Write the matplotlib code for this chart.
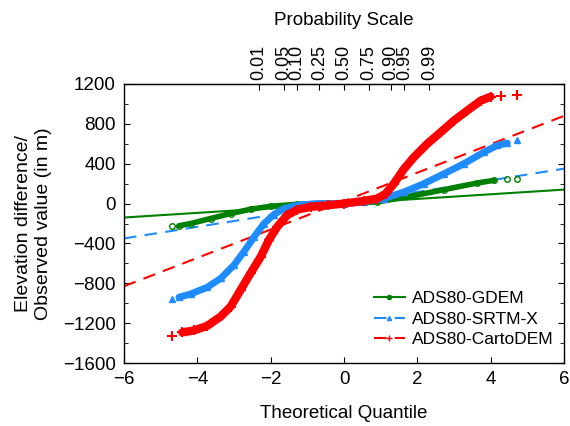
import matplotlib
matplotlib.use("Agg")
import matplotlib.pyplot as plt
from matplotlib.ticker import MultipleLocator

plt.rcParams['font.family'] = ['Liberation Sans', 'DejaVu Sans']

# CartoDEM quantiles
carto_x = [-4.68, -4.41, -4.09, -3.73, -3.36, -3.09, -2.82, -2.55, -2.27, -2.05, -1.82, -1.55,
           -1.27, -0.91, -0.45, 0.0, 0.55, 0.91, 1.14, 1.36, 1.64, 1.91, 2.27, 2.64, 3.0,
           3.36, 3.73, 4.0, 4.27, 4.73]
carto_y = [-1333, -1293, -1273, -1227, -1133, -1033, -867, -700, -533, -367, -233, -117,
           -60, -33, -17, 0, 27, 50, 100, 200, 350, 467, 600, 717, 833,
           933, 1033, 1073, 1083, 1093]

# SRTM-X quantiles
srtm_x = [-4.7, -4.5, -4.18, -3.73, -3.36, -3.0, -2.73, -2.45, -2.18, -1.91, -1.64, -1.27,
          -0.73, 0.0, 0.55, 1.09, 1.64, 2.18, 2.73, 3.27, 3.82, 4.18, 4.45, 4.71]
srtm_y = [-960, -940, -907, -840, -750, -617, -483, -333, -200, -110, -50, -17,
          0, 0, 17, 50, 117, 200, 300, 400, 517, 583, 607, 633]

# GDEM quantiles
gdem_x = [-4.7, -4.5, -4.18, -3.64, -3.09, -2.55, -2.0, -1.27, 0.0, 0.91, 1.82, 2.73,
          3.64, 4.09, 4.45, 4.71]
gdem_y = [-227, -223, -200, -150, -100, -57, -27, -7, 0, 17, 73, 140,
          207, 233, 243, 250]

# fitted reference lines (end points at x = -6 and 6)
ref_x = [-6, 6]
gdem_ref = [-140, 140]
srtm_ref = [-350, 350]
carto_ref = [-830, 880]

# probability scale on top
prob_labels = ['0.01', '0.05', '0.10', '0.25', '0.50', '0.75', '0.90', '0.95', '0.99']
prob_pos = [-2.326, -1.645, -1.282, -0.674, 0.0, 0.674, 1.282, 1.645, 2.326]

green = '#008000'
blue = '#1e8cff'
red = '#ff0000'

fig = plt.figure(figsize=(5.7, 4.26), dpi=100)
ax = fig.add_axes([124/570, 1 - 363/426, 440/570, 279/426])

# reference lines
ax.plot(ref_x, gdem_ref, color=green, lw=1.5, ls='-')
ax.plot(ref_x, srtm_ref, color=blue, lw=1.5, ls=(0, (6, 4)))
ax.plot(ref_x, carto_ref, color=red, lw=1.5, ls=(0, (6, 4)))

# data bands (dense quantile points), sparse tail points shown as markers only
ax.plot(gdem_x[1:-2], gdem_y[1:-2], color=green, lw=4, solid_joinstyle='round', solid_capstyle='round')
ax.plot(gdem_x, gdem_y, ls='none', marker='o', ms=4, mfc='none', mec=green, mew=1)
ax.plot(srtm_x[1:-1], srtm_y[1:-1], color=blue, lw=5, solid_joinstyle='round', solid_capstyle='round')
ax.plot(srtm_x, srtm_y, ls='none', marker='^', ms=5, color=blue)
ax.plot(carto_x[1:-2], carto_y[1:-2], color=red, lw=6, solid_joinstyle='round', solid_capstyle='round')
ax.plot(carto_x, carto_y, ls='none', marker='+', ms=7, mew=1.5, color=red)

# legend handles
h1, = ax.plot([], [], color=green, lw=1.5, marker='.', ms=6)
h2, = ax.plot([], [], color=blue, lw=1.5, ls=(0, (6, 4)), marker='^', ms=3)
h3, = ax.plot([], [], color=red, lw=1.5, ls=(0, (6, 4)), marker='+', ms=4)
ax.legend([h1, h2, h3], ['ADS80-GDEM', 'ADS80-SRTM-X', 'ADS80-CartoDEM'],
          loc='lower right', bbox_to_anchor=(1.0, 0.02), frameon=False, fontsize=12.5,
          handlelength=1.8, handletextpad=0.4, labelspacing=0.3, borderaxespad=0.2)

ax.set_xlim(-6, 6)
ax.set_ylim(-1600, 1200)
ax.set_xticks([-6, -4, -2, 0, 2, 4, 6])
ax.set_yticks(range(-1600, 1201, 400))
ax.yaxis.set_minor_locator(MultipleLocator(200))
ax.tick_params(axis='both', which='both', direction='in', labelsize=13.5)
ax.tick_params(axis='y', which='both', right=True)
ax.tick_params(axis='x', which='major', top=False, length=4, pad=6)
ax.tick_params(axis='y', which='major', length=4, pad=6)
ax.tick_params(axis='y', which='minor', length=3)
ax.set_xlabel('Theoretical Quantile', fontsize=13.5, labelpad=12)
ax.set_ylabel('Elevation difference/\nObserved value (in m)', fontsize=14, labelpad=8)

top = ax.secondary_xaxis('top')
top.set_ticks(prob_pos)
top.set_xticklabels(prob_labels, rotation=90)
top.tick_params(direction='in', length=4, labelsize=13, pad=3)
top.set_xlabel('Probability Scale', fontsize=13.5, labelpad=14)

for s in ax.spines.values():
    s.set_linewidth(1.0)

fig.savefig('out.png', dpi=100)
